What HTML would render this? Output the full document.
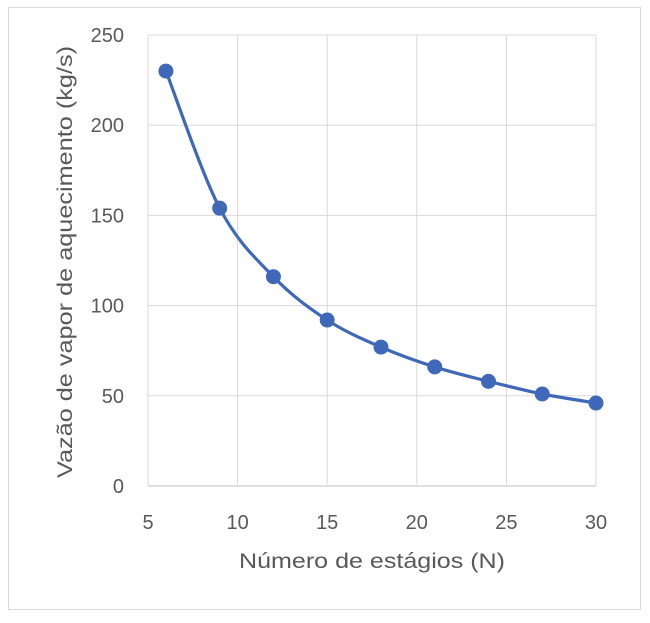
<!DOCTYPE html>
<html><head><meta charset="utf-8"><style>
html,body{margin:0;padding:0;background:#fff;}
svg{display:block;font-family:"Liberation Sans",sans-serif;}
</style></head><body>
<svg width="650" height="623" viewBox="0 0 650 623">
<rect x="8.5" y="7.5" width="632" height="602" fill="#fff" stroke="#d9d9d9"/>
<g id="grid"></g>
<g id="ticks"></g>
<path id="line" fill="none" stroke="#3f69b8" stroke-width="3.2"/>
<g id="pts"></g>
<text x="372" y="568" text-anchor="middle" font-size="21" fill="#595959" textLength="266" lengthAdjust="spacingAndGlyphs">Número de estágios (N)</text>
<text transform="translate(72,262) rotate(-90)" text-anchor="middle" font-size="21" fill="#595959" textLength="432" lengthAdjust="spacingAndGlyphs">Vazão de vapor de aquecimento (kg/s)</text>
</svg>
<script>
const xs=[6,9,12,15,18,21,24,27,30];
const ys=[230,154,116,92,77,66,58,51,46];
const xTicks=[5,10,15,20,25,30];
const yTicks=[0,50,100,150,200,250];
const X=v=>148+(v-5)*(596-148)/25;
const Y=v=>486-v*(486-35)/250;
const NS='http://www.w3.org/2000/svg';
const grid=document.getElementById('grid'),ticks=document.getElementById('ticks'),pts=document.getElementById('pts');
function mk(t,a,p){const e=document.createElementNS(NS,t);for(const k in a)e.setAttribute(k,a[k]);p.appendChild(e);return e;}
yTicks.forEach(v=>{
  const l=mk('line',{x1:148,x2:596,y1:Y(v),y2:Y(v),stroke:v===0?'#bfbfbf':'#d9d9d9','stroke-width':1},grid);
  
  
  const t=mk('text',{x:124,y:Y(v)+7,'text-anchor':'end','font-size':20,fill:'#595959'},ticks);
  t.textContent=v;
  
  
});
xTicks.forEach(v=>{
  const l=mk('line',{x1:X(v),x2:X(v),y1:35,y2:486,stroke:'#d9d9d9','stroke-width':1},grid);
  
  
  const t=mk('text',{x:X(v),y:529,'text-anchor':'middle','font-size':20,fill:'#595959'},ticks);
  t.textContent=v;
  
  
});
const P=xs.map((x,i)=>[X(x),Y(ys[i])]);
let d='M'+P[0][0]+','+P[0][1];
for(let i=0;i<P.length-1;i++){
  const p0=P[Math.max(0,i-1)],p1=P[i],p2=P[i+1],p3=P[Math.min(P.length-1,i+2)];
  const c1=[p1[0]+(p2[0]-p0[0])/6,p1[1]+(p2[1]-p0[1])/6];
  const c2=[p2[0]-(p3[0]-p1[0])/6,p2[1]-(p3[1]-p1[1])/6];
  d+=` C${c1[0]},${c1[1]} ${c2[0]},${c2[1]} ${p2[0]},${p2[1]}`;
}
document.getElementById('line').setAttribute('d',d);
P.forEach(p=>{
  const c=mk('circle',{cx:p[0],cy:p[1],r:7.5,fill:'#3f69b8'},pts);
  
  
});
</script>
</body></html>
